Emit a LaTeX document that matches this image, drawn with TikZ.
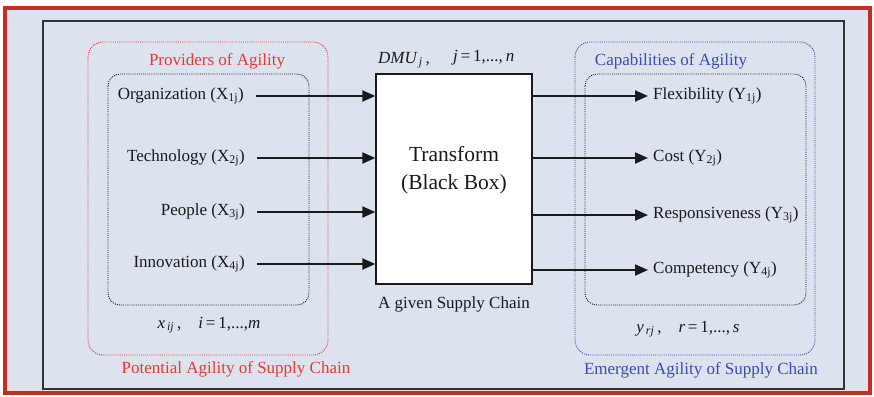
\documentclass[tikz,border=0pt]{standalone}
\usepackage{fontspec}
\setmainfont{Liberation Serif}
\usetikzlibrary{arrows.meta}
\definecolor{panel}{HTML}{DCE3EE}
\definecolor{frame}{HTML}{C62D22}
\definecolor{provred}{HTML}{E53935}
\definecolor{capblue}{HTML}{3B4BAF}
\definecolor{ink}{HTML}{1A1A1A}
\begin{document}
\begin{tikzpicture}[x=1pt,y=-1pt,
  lbl/.style={inner sep=0pt,text=ink,font=\fontsize{17}{20}\selectfont},
  grp/.style={line width=0.9pt,dash pattern=on 1pt off 1.1pt,rounded corners=15pt},
  arr/.style={line width=2pt,draw=ink,-{Triangle[length=13pt,width=11pt]}}]
\useasboundingbox (0,0) rectangle (874,396);
% outer panel and frames
\draw[frame,line width=4.5pt,fill=panel] (5,8) rectangle (870,393);
\draw[line width=1.5pt,draw=black!80] (43,21) rectangle (844,389);
% grouping outlines
\draw[grp,draw=provred] (88,42) rectangle (328,355);
\draw[grp,draw=black!85,rounded corners=12pt] (108,74) rectangle (309,305);
\draw[grp,draw=capblue] (575,42) rectangle (815,355);
\draw[grp,draw=black!85,rounded corners=12pt] (585,74) rectangle (806,305);
% the transformation box
\node[draw=ink,line width=1.3pt,fill=white,minimum width=156pt,minimum height=210pt,inner sep=0pt] (box) at (454,179) {};
\node[text=ink,align=center,font=\fontsize{21.5}{28}\selectfont] (tf) at (454,170) {Transform\\(Black Box)};
\node[lbl] (given) at (454,304) {A given Supply Chain};
\node[lbl,anchor=west] (dmu) at (378,60) {\itshape DMU\textsubscript{\,j}\,,};
\node[lbl,anchor=west] (jrange) at (453,58) {\itshape j\upshape\,=\,1,...,\itshape\,n};
% group titles
\node[lbl,text=provred] (prov) at (217,61) {Providers of Agility};
\node[lbl,text=capblue] (cap) at (671,61) {Capabilities of Agility};
\node[lbl,text=provred] (pot) at (236,369) {Potential Agility of Supply Chain};
\node[lbl,text=capblue] (emg) at (701,370) {Emergent Agility of Supply Chain};
\node[lbl] (xr) at (209,325) {\itshape x\textsubscript{\,ij}\upshape\,,\quad\itshape i\upshape\,=\,1,...,\itshape m};
\node[lbl] (yr) at (688,329) {\itshape y\textsubscript{\,rj}\upshape\,,\quad\itshape r\upshape\,=\,1,...,\itshape\,s};
% inputs
\node[lbl,anchor=east] (in1) at (244,96) {Organization (X\textsubscript{1j})};
\node[lbl,anchor=east] (in2) at (245,158) {Technology (X\textsubscript{2j})};
\node[lbl,anchor=east] (in3) at (245,212) {People (X\textsubscript{3j})};
\node[lbl,anchor=east] (in4) at (245,264) {Innovation (X\textsubscript{4j})};
\foreach \i in {1,...,4}
  \draw[arr] ([xshift=12pt]in\i.east) -- (in\i -| box.west);
% outputs
\node[lbl,anchor=west] (out1) at (653,96) {Flexibility (Y\textsubscript{1j})};
\node[lbl,anchor=west] (out2) at (653,158) {Cost (Y\textsubscript{2j})};
\node[lbl,anchor=west] (out3) at (653,215) {Responsiveness (Y\textsubscript{3j})};
\node[lbl,anchor=west] (out4) at (653,270) {Competency (Y\textsubscript{4j})};
\foreach \i in {1,...,4}
  \draw[arr] (out\i -| box.east) -- ([xshift=-5pt]out\i.west);
\end{tikzpicture}
\end{document}
